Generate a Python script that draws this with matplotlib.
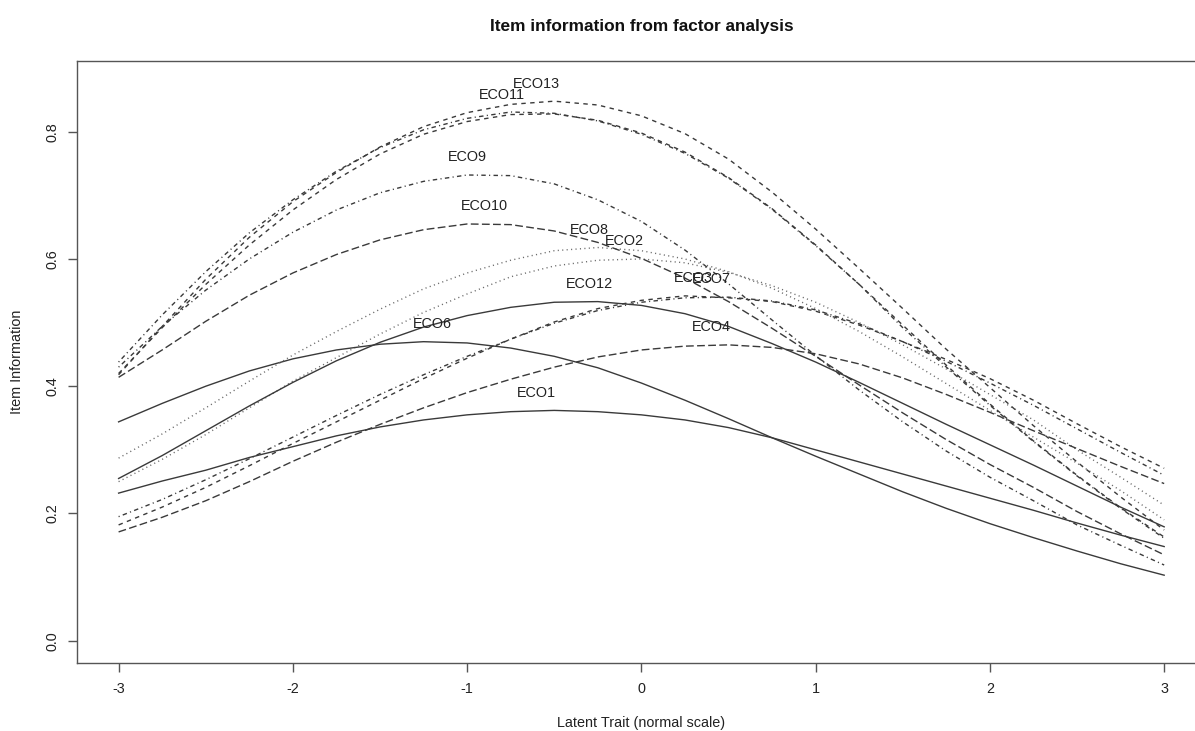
import matplotlib
matplotlib.use("Agg")
import matplotlib.pyplot as plt
import numpy as np

# latent trait grid and item information
theta = [-3, -2.75, -2.5, -2.25, -2, -1.75, -1.5, -1.25, -1, -0.75, -0.5, -0.25,
         0, 0.25, 0.5, 0.75, 1, 1.25, 1.5, 1.75, 2, 2.25, 2.5, 2.75, 3]

eco1 = [0.232, 0.251, 0.268, 0.288, 0.305, 0.322, 0.336, 0.347, 0.355, 0.360, 0.362, 0.360,
        0.355, 0.347, 0.335, 0.319, 0.300, 0.281, 0.262, 0.243, 0.224, 0.205, 0.185, 0.166, 0.148]
eco2 = [0.250, 0.285, 0.324, 0.366, 0.408, 0.445, 0.482, 0.516, 0.545, 0.572, 0.589, 0.598,
        0.600, 0.594, 0.579, 0.558, 0.532, 0.500, 0.465, 0.427, 0.387, 0.347, 0.300, 0.257, 0.213]
eco3 = [0.182, 0.210, 0.241, 0.275, 0.310, 0.344, 0.378, 0.412, 0.444, 0.474, 0.501, 0.522,
        0.535, 0.542, 0.539, 0.533, 0.518, 0.496, 0.470, 0.442, 0.412, 0.378, 0.341, 0.305, 0.271]
eco4 = [0.171, 0.194, 0.220, 0.250, 0.282, 0.312, 0.340, 0.366, 0.390, 0.411, 0.430, 0.446,
        0.457, 0.463, 0.465, 0.461, 0.451, 0.435, 0.413, 0.387, 0.359, 0.330, 0.302, 0.274, 0.247]
eco5 = [0.420, 0.492, 0.560, 0.622, 0.677, 0.725, 0.765, 0.796, 0.816, 0.827, 0.828, 0.818,
        0.798, 0.768, 0.728, 0.679, 0.622, 0.560, 0.496, 0.433, 0.372, 0.314, 0.260, 0.209, 0.163]
eco6 = [0.344, 0.373, 0.400, 0.424, 0.443, 0.457, 0.466, 0.470, 0.468, 0.460, 0.447, 0.429,
        0.405, 0.378, 0.349, 0.319, 0.290, 0.262, 0.234, 0.208, 0.184, 0.162, 0.141, 0.121, 0.103]
eco7 = [0.195, 0.222, 0.253, 0.286, 0.320, 0.354, 0.387, 0.418, 0.447, 0.474, 0.499, 0.519,
        0.532, 0.539, 0.540, 0.534, 0.520, 0.498, 0.470, 0.439, 0.405, 0.370, 0.333, 0.296, 0.260]
eco8 = [0.287, 0.325, 0.366, 0.408, 0.449, 0.486, 0.521, 0.553, 0.578, 0.598, 0.613, 0.618,
        0.613, 0.600, 0.580, 0.554, 0.522, 0.486, 0.446, 0.404, 0.362, 0.320, 0.279, 0.236, 0.190]
eco9 = [0.430, 0.494, 0.551, 0.600, 0.642, 0.677, 0.704, 0.722, 0.732, 0.731, 0.718, 0.693,
        0.659, 0.614, 0.561, 0.504, 0.448, 0.394, 0.344, 0.298, 0.257, 0.220, 0.182, 0.150, 0.119]
eco10 = [0.414, 0.457, 0.502, 0.543, 0.578, 0.607, 0.630, 0.646, 0.655, 0.654, 0.644, 0.626,
         0.601, 0.570, 0.533, 0.491, 0.447, 0.402, 0.358, 0.316, 0.277, 0.241, 0.203, 0.168, 0.135]
eco11 = [0.438, 0.512, 0.580, 0.641, 0.693, 0.738, 0.775, 0.803, 0.821, 0.831, 0.829, 0.817,
         0.796, 0.766, 0.727, 0.678, 0.621, 0.560, 0.492, 0.430, 0.370, 0.313, 0.259, 0.208, 0.161]
eco12 = [0.255, 0.291, 0.330, 0.369, 0.406, 0.440, 0.469, 0.493, 0.511, 0.524, 0.532, 0.533,
         0.527, 0.514, 0.494, 0.467, 0.438, 0.406, 0.373, 0.340, 0.308, 0.276, 0.243, 0.210, 0.179]
eco13 = [0.418, 0.494, 0.568, 0.634, 0.690, 0.736, 0.776, 0.808, 0.830, 0.843, 0.848, 0.842,
         0.825, 0.797, 0.757, 0.705, 0.647, 0.585, 0.522, 0.458, 0.398, 0.338, 0.281, 0.226, 0.174]

items = ["ECO1", "ECO2", "ECO3", "ECO4", "ECO5", "ECO6", "ECO7",
         "ECO8", "ECO9", "ECO10", "ECO11", "ECO12", "ECO13"]
info = [eco1, eco2, eco3, eco4, eco5, eco6, eco7, eco8, eco9, eco10, eco11, eco12, eco13]
# where each label sits (theta of the peak); ECO5 has no visible label
label_x = [-0.60, -0.10, 0.30, 0.40, None, -1.20, 0.40, -0.30, -1.00, -0.90, -0.80, -0.30, -0.60]

# R-like line types (in points, scaled by line width)
solid = "-"
dashed = (0, (3.2, 3.2))
dotted = (0, (0.8, 2.4))
dotdash = (0, (0.8, 2.4, 3.2, 2.4))
longdash = (0, (5.6, 2.4))
styles = [solid, dotted, dashed, longdash, dashed, solid, dotdash,
          dotted, dotdash, longdash, dotdash, solid, dashed]

plt.rcParams['font.family'] = ['Liberation Sans', 'DejaVu Sans']
plt.rcParams['axes.unicode_minus'] = False
fig = plt.figure(figsize=(11.95, 7.31), dpi=100)
ax = fig.add_axes([0.0644, 0.0926, 0.9448, 0.8239])

for name, vals, ls, lx in zip(items, info, styles, label_x):
    col = "#6a6a6a" if ls == dotted else "#3a3a3a"
    ax.plot(theta, vals, color=col, linewidth=1.0, linestyle=ls)
    if lx is not None:
        ly = np.interp(lx, theta, vals)
        ax.annotate(name, xy=(lx, ly), xytext=(0, 13), textcoords="offset points",
                    ha="center", va="center", fontsize=10.4, color="#222222")

ax.set_xlim(-3.239, 3.24)
ax.set_ylim(-0.0355, 0.9111)
ax.set_xticks([-3, -2, -1, 0, 1, 2, 3])
ax.set_yticks([0.0, 0.2, 0.4, 0.6, 0.8])
ax.set_yticklabels(["0.0", "0.2", "0.4", "0.6", "0.8"], rotation=90, va="center")
ax.tick_params(axis="both", length=6.5, width=1.0, color="#555555",
               labelsize=10.4, labelcolor="#222222")
ax.tick_params(axis="x", pad=7)
ax.tick_params(axis="y", pad=6)
for sp in ax.spines.values():
    sp.set_color("#555555")
    sp.set_linewidth(1.0)

fig.text(641.5 / 1195, 1 - 27 / 731, "Item information from factor analysis",
         ha="center", va="center", fontsize=12.4, fontweight="bold", color="#111111")
fig.text(641.5 / 1195, 1 - 723 / 731, "Latent Trait (normal scale)",
         ha="center", va="center", fontsize=10.4, color="#222222")
fig.text(17 / 1195, 1 - 362 / 731, "Item Information", rotation=90,
         ha="center", va="center", fontsize=10.4, color="#222222")

fig.savefig("out.png", dpi=100)
